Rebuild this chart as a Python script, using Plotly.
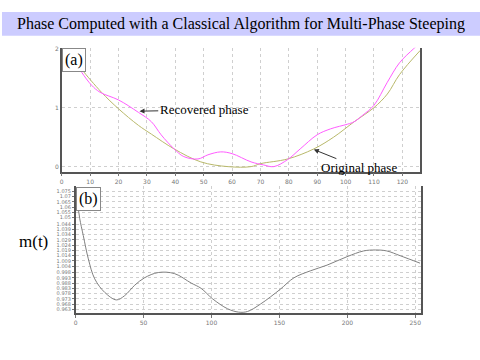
import plotly.graph_objects as go

# ---- data ----
rec_x = [5, 7, 10.5, 13.5, 20, 27, 31.6, 35, 39.6, 43, 48, 51.5, 56, 60, 66.7, 71, 74.7,
         79.6, 84, 90, 94.7, 100.7, 103, 106, 110, 114.7, 119, 124, 126.3]
rec_y = [1.75, 1.6, 1.38, 1.26, 1.13, 0.92, 0.76, 0.54, 0.30, 0.17, 0.13, 0.2, 0.25, 0.22,
         0.08, 0.03, 0.0, 0.12, 0.3, 0.54, 0.64, 0.72, 0.76, 0.87, 1.04, 1.43, 1.76, 2.0, 2.1]

orig_x = [5, 7, 14, 20, 27, 31.6, 39.6, 49, 58.6, 66.7, 70, 79.6, 88.8, 95.8, 103, 110,
          114.7, 119, 126.3]
orig_y = [1.78, 1.65, 1.26, 0.98, 0.7, 0.55, 0.3, 0.08, 0.0, 0.0, 0.05, 0.13, 0.3, 0.5,
          0.76, 1.0, 1.23, 1.56, 1.97]

m_x = [0, 2, 3, 5.6, 9.3, 14, 21.5, 30, 36, 43.5, 50.7, 60.8, 72.7, 85, 92.3, 100.8,
       111.8, 120, 126.5, 136, 150.5, 160.7, 173, 185, 199.7, 212, 220.5, 229, 239, 253.5]
m_y = [1.072, 1.058, 1.049, 1.033, 1.011, 0.992, 0.979, 0.972, 0.976, 0.986, 0.993, 0.998,
       0.997, 0.988, 0.983, 0.973, 0.9636, 0.9604, 0.961, 0.968, 0.982, 0.993, 0.9997,
       1.005, 1.013, 1.0185, 1.0194, 1.0185, 1.0139, 1.0069]

top_xticks = [0, 10, 20, 30, 40, 50, 60, 70, 80, 90, 100, 110, 120]
top_yticks = [0, 1, 2]
bot_xticks = [0, 50, 100, 150, 200, 250]
bot_ytick_labels = ["1.075", "1.07", "1.065", "1.06", "1.055", "1.05", "1.044", "1.039",
                    "1.034", "1.029", "1.024", "1.019", "1.014", "1.009", "1.004", "0.998",
                    "0.993", "0.988", "0.983", "0.978", "0.973", "0.968", "0.963"]

title_text = "Phase Computed with a Classical Algorithm for Multi-Phase Steeping"

serif = "Liberation Serif"
tickfont = dict(family="DejaVu Sans", size=6, color="#777777")

fig = go.Figure()
fig.add_trace(go.Scatter(x=orig_x, y=orig_y, mode="lines", line=dict(color="#b8b86a", width=1, shape="spline"),
                         xaxis="x", yaxis="y", showlegend=False, hoverinfo="skip"))
fig.add_trace(go.Scatter(x=rec_x, y=rec_y, mode="lines", line=dict(color="#ff5cff", width=1, shape="spline"),
                         xaxis="x", yaxis="y", showlegend=False, hoverinfo="skip"))
fig.add_trace(go.Scatter(x=m_x, y=m_y, mode="lines", line=dict(color="#808080", width=1, shape="spline"),
                         xaxis="x2", yaxis="y2", showlegend=False, hoverinfo="skip"))

grid = dict(showgrid=True, gridcolor="#cfcfcf", griddash="3px,3px", gridwidth=1, zeroline=False)

fig.update_layout(
    width=480, height=360,
    margin=dict(l=0, r=0, t=0, b=0),
    paper_bgcolor="white", plot_bgcolor="white",
    xaxis=dict(domain=[60/480, 420/480], anchor="y", range=[0, 126.3],
               tickvals=top_xticks, ticks="outside", ticklen=3, tickcolor="#777",
               tickfont=tickfont, showline=True, linecolor="#555", linewidth=1.5, **grid),
    yaxis=dict(domain=[1 - 170/360, 1 - 45/360], anchor="x", range=[-0.084, 2.017],
               tickvals=top_yticks, ticks="", tickfont=tickfont, showline=True,
               linecolor="#555", linewidth=1.5, mirror=True, **grid),
    xaxis2=dict(domain=[74/480, 421/480], anchor="y2", range=[0, 254.4],
                tickvals=bot_xticks, ticks="outside", ticklen=3, tickcolor="#777",
                tickfont=tickfont, showline=True, linecolor="#555", linewidth=1.5, **grid),
    yaxis2=dict(domain=[1 - 313/360, 1 - 185/360], anchor="x2", range=[0.9592, 1.0797],
                tickvals=[float(v) for v in bot_ytick_labels], ticktext=bot_ytick_labels,
                ticks="outside", ticklen=2, tickcolor="#777",
                tickfont=dict(family="DejaVu Sans", size=5, color="#777777"),
                showline=True, linecolor="#555", linewidth=1.5, mirror=True, **grid),
    shapes=[dict(type="rect", xref="paper", yref="paper", x0=0, x1=1,
                 y0=1 - 33/360, y1=1 - 9/360, fillcolor="#ccccff", line=dict(width=0),
                 layer="below")],
    annotations=[
        dict(text=title_text, xref="paper", yref="paper", x=0.5, y=1 - 21/360,
             showarrow=False, font=dict(family=serif, size=16, color="black"),
             xanchor="center", yanchor="middle"),
        dict(text="(a)", xref="paper", yref="paper", x=60/480, y=1 - 45/360,
             xanchor="left", yanchor="top", showarrow=False,
             font=dict(family=serif, size=16, color="black"),
             bgcolor="white", bordercolor="#888", borderwidth=1, borderpad=2),
        dict(text="(b)", xref="paper", yref="paper", x=74/480, y=1 - 186/360,
             xanchor="left", yanchor="top", showarrow=False,
             font=dict(family=serif, size=16, color="black"),
             bgcolor="white", bordercolor="#888", borderwidth=1, borderpad=2),
        dict(text="m(t)", xref="paper", yref="paper", x=15/480, y=1 - 240/360,
             xanchor="left", yanchor="middle", showarrow=False,
             font=dict(family=serif, size=17, color="black")),
        dict(text="Recovered phase", xref="x", yref="y", x=27.4, y=0.94,
             ax=50.2, ay=0.96, axref="x", ayref="y", showarrow=True,
             arrowhead=2, arrowsize=1, arrowwidth=1, arrowcolor="#333",
             font=dict(family=serif, size=13, color="black")),
        dict(text="Original phase", xref="x", yref="y", x=88.8, y=0.29,
             ax=104.6, ay=-0.017, axref="x", ayref="y", showarrow=True,
             arrowhead=2, arrowsize=1, arrowwidth=1, arrowcolor="#333",
             font=dict(family=serif, size=13, color="black")),
    ],
)

fig.write_html("out.html", config={"displayModeBar": False},
               post_script="document.body.style.margin='0px';document.body.style.overflow='hidden';")
